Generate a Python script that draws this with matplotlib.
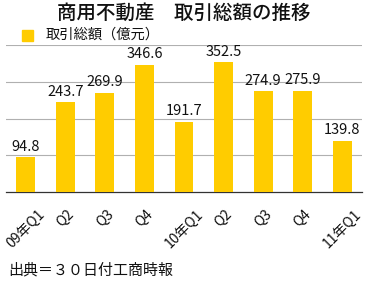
import matplotlib
matplotlib.use("Agg")
import matplotlib.pyplot as plt
import matplotlib.transforms as mtransforms

plt.rcParams['font.family'] = ['Noto Sans CJK JP', 'DejaVu Sans']

categories = ["09年Q1", "Q2", "Q3", "Q4", "10年Q1", "Q2", "Q3", "Q4", "11年Q1"]
values = [94.8, 243.7, 269.9, 346.6, 191.7, 352.5, 274.9, 275.9, 139.8]
title = "商用不動産　取引総額の推移"
legend_label = "取引総額（億元）"
source = "出典＝３０日付工商時報"

W, H, DPI = 374, 286, 100
fig = plt.figure(figsize=(W / DPI, H / DPI), dpi=DPI)
ax = fig.add_axes([6 / W, 1 - 192 / H, 356 / W, 147 / H])

color = "#FFCC00"
x = list(range(len(values)))
ax.bar(x, values, width=0.48, color=color, zorder=3)
ax.set_xlim(-0.5, len(values) - 0.5)
ax.set_ylim(0, 400)
ax.set_yticks([100, 200, 300, 400])
ax.yaxis.grid(True, color="#b0b0b0", linewidth=0.8, zorder=0)
ax.tick_params(axis='y', left=False, labelleft=False)
ax.tick_params(axis='x', bottom=False, labelbottom=False)
for s in ["left", "right", "top"]:
    ax.spines[s].set_visible(False)
ax.spines["bottom"].set_color("#333333")
ax.spines["bottom"].set_linewidth(0.9)

for xi, v in zip(x, values):
    ax.annotate(f"{v}", (xi, v), xytext=(0, 2.5), textcoords="offset points",
                ha="center", va="bottom", fontsize=10.5, color="#111111")

offset = mtransforms.ScaledTranslation(0, -15 / DPI, fig.dpi_scale_trans)
for xi, lab in zip(x, categories):
    ax.text(xi, 0, lab, transform=ax.get_xaxis_transform() + offset,
            rotation=45, ha="center", va="top",
            fontsize=10, color="#111111")

fig.text(184 / W, 1 - 13 / H, title, ha="center", va="center",
         fontsize=14, fontweight="medium", color="#111111")
fig.patches.append(plt.Rectangle((22 / W, 1 - 41 / H), 11 / W, 11 / H,
                                 transform=fig.transFigure, color=color, figure=fig))
fig.text(46 / W, 1 - 35 / H, legend_label, ha="left", va="center",
         fontsize=10.3, color="#111111")
fig.text(8 / W, 1 - 270 / H, source, ha="left", va="center",
         fontsize=10.8, color="#111111")

fig.savefig("out.png", dpi=DPI)
